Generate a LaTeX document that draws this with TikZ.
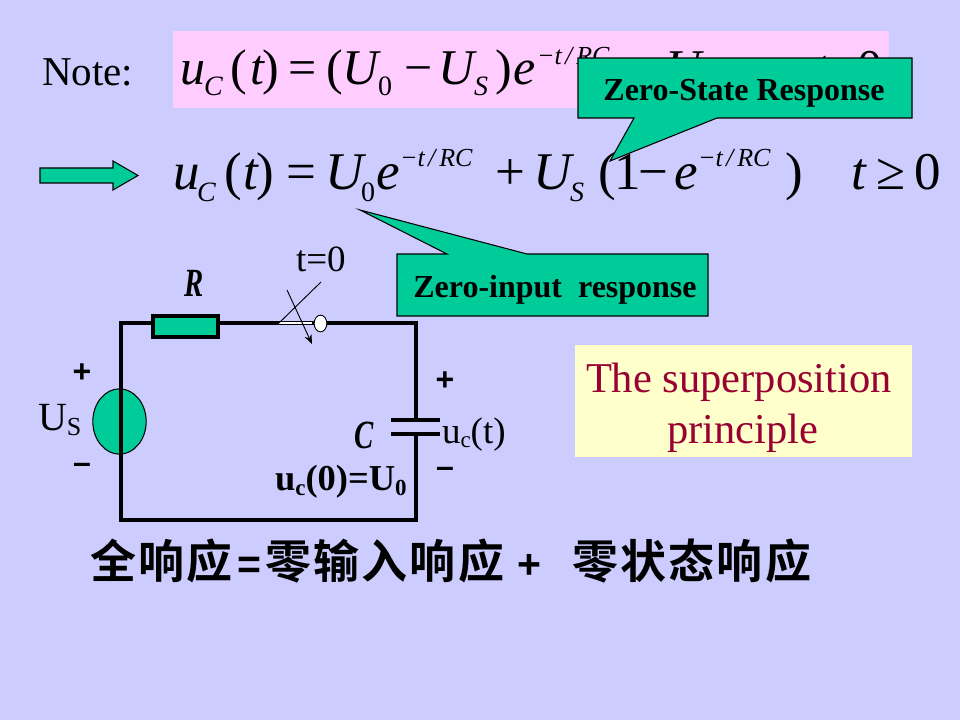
\documentclass[tikz,border=0pt]{standalone}
\usetikzlibrary{shapes.geometric,arrows.meta}
\usepackage{fontspec}
\setmainfont{Liberation Serif}
\setsansfont{Liberation Sans}
\newfontfamily\cjkbold[LetterSpace=5]{Noto Sans CJK SC Bold}
\definecolor{bgc}{HTML}{CCCCFF}
\definecolor{pinkc}{HTML}{FFCCFF}
\definecolor{greenc}{HTML}{00CC99}
\definecolor{yellowc}{HTML}{FFFFCC}
\definecolor{redc}{HTML}{990033}
\newcommand{\fsz}[1]{\fontsize{\dimexpr #1pt*3/4\relax}{\dimexpr #1pt*3/4\relax}\selectfont}
\newcommand{\expo}{−t\kern2.5pt/\kern3pt RC}
\tikzset{
 tok/.style={anchor=base west,inner sep=0pt,outer sep=0pt},
 big/.style={tok,font=\fsz{53}},
 bigi/.style={tok,font=\fsz{53}\itshape},
 bigA/.style={tok,font=\fsz{50}},
 bigAi/.style={tok,font=\fsz{50}\itshape},
 sub/.style={tok,font=\fsz{28}},
 subi/.style={tok,font=\fsz{28}\itshape},
 supi/.style={tok,font=\fsz{26}\itshape},
 wire/.style={line width=2.6pt,line cap=rect,line join=miter},
 thinl/.style={line width=0.7pt},
 calloutbox/.style={draw=black,fill=greenc,line width=0.8pt,line join=miter},
 callouttext/.style={font=\fsz{32}\bfseries,inner sep=0pt},
 sign/.style={font=\sffamily\bfseries\fsz{32},inner sep=0pt},
 elem/.style={font=\bfseries\itshape\fsz{40},inner sep=0pt,xscale=.72}
}
\begin{document}
\begin{tikzpicture}[x=0.75pt,y=-0.75pt]
\useasboundingbox (0,0) rectangle (960,720);
\fill[bgc] (0,0) rectangle (960,720);
\fill[pinkc] (173,31) rectangle (889,108);
\node[tok,font=\fsz{41}] (note) at (42,86) {Note:};
% first equation
\node[bigAi] (a1) at (180,85) {u};
\node[subi] (a2) at (204,96) {C};
\node[bigA] (a3) at (230,85) {(};
\node[bigAi] (a4) at (250,85) {t};
\node[bigA] (a5) at (262,85) {)};
\node[bigA] (a6) at (288,85) {=};
\node[bigA] (a7) at (326,85) {(};
\node[bigAi] (a8) at (342,85) {U};
\node[sub] (a9) at (378,96) {0};
\node[bigA] (a10) at (404,85) {−};
\node[bigAi] (a11) at (438,85) {U};
\node[subi] (a12) at (474,96) {S};
\node[bigA] (a13) at (495,85) {)};
\node[bigAi] (a14) at (513,85) {e};
\node[supi] (a15) at (537,65) {\expo};
\node[bigAi] (a16) at (665,85) {U};
\node[bigAi] (a17) at (815,85) {t};
\node[bigA] (a18) at (857,85) {0};
% second equation
\node[bigi] (b1) at (173,190) {u};
\node[subi] (b2) at (197,202) {C};
\node[big] (b3) at (224,190) {(};
\node[bigi] (b4) at (243,190) {t};
\node[big] (b5) at (256,190) {)};
\node[big] (b6) at (286,190) {=};
\node[bigi] (b7) at (325,190) {U};
\node[sub] (b8) at (361,202) {0};
\node[bigi] (b9) at (376,190) {e};
\node[supi] (b10) at (400,167) {\expo};
\node[big] (b11) at (495,190) {+};
\node[bigi] (b12) at (533,190) {U};
\node[subi] (b13) at (570,202) {S};
\node[big] (b14) at (598,190) {(};
\node[big] (b15) at (614,190) {1};
\node[big] (b16) at (638,190) {−};
\node[bigi] (b17) at (674,190) {e};
\node[supi] (b18) at (698,167) {\expo};
\node[big] (b19) at (785,190) {)};
\node[bigi] (b20) at (851,190) {t};
\node[big] (b21) at (876,190) {≥};
\node[big] (b22) at (914,190) {0};
% block arrow
\draw[calloutbox] (40,168) -- (113,168) -- (113,161) -- (138,175.5) -- (113,190) -- (113,183) -- (40,183) -- cycle;
% callouts
\draw[calloutbox] (578,58) -- (912,58) -- (912,118) -- (717,118) -- (610,161) -- (634,118) -- (578,118) -- cycle;
\node[callouttext] (zs) at (744,93) {Zero-State Response};
\draw[calloutbox] (397,254) -- (447,254) -- (360,210) -- (527,254) -- (708,254) -- (708,316) -- (397,316) -- cycle;
\node[callouttext] (zi) at (555,290) {Zero-input\ \ response};
% circuit
\coordinate (tl) at (121,323);
\coordinate (tr) at (416,323);
\coordinate (br) at (416,520);
\coordinate (bl) at (121,520);
\coordinate (plateA) at (416,420);
\coordinate (plateB) at (416,434);
\coordinate (swL) at (279,323);
\node[draw=black,fill=greenc,ellipse,inner sep=0pt,line width=0.8pt,minimum width=40pt,minimum height=49pt] (src) at (119.5,421.5) {};
\draw[wire] (tl) -- (bl) -- (br) -- (plateB);
\draw[wire] (plateA) -- (tr) -- (tl);
\draw[wire] (393,420) -- (438,420);
\draw[wire] (393,434) -- (438,434);
\node[draw=black,fill=greenc,line width=2.6pt,minimum width=48.75pt,minimum height=16pt,inner sep=0pt] (res) at (185.5,326.5) {};
\draw[white,line width=2.2pt] (swL) -- (312,323);
\node[draw=black,fill=white,ellipse,line width=0.7pt,minimum width=9.5pt,minimum height=12.5pt,inner sep=0pt] (sw) at (320.5,323.5) {};
\coordinate (swT) at (321,282);
\coordinate (arA) at (287,290);
\coordinate (arB) at (312,344);
\draw[thinl] (swL) -- (swT);
\draw[thinl,-{Stealth[length=7pt,width=5.5pt]}] (arA) -- (arB);
% circuit labels
\node[elem] (Rl) at (194,283) {R};
\node[elem] (Cl) at (364,435) {C};
\node[sign] (p1) at (82,373) {+};
\node[sign] (m1) at (82,468) {–};
\node[sign] (p2) at (445,381.5) {+};
\node[sign] (m2) at (445,472) {–};
\node[tok,font=\fsz{40}] (us) at (38,430) {U\raisebox{-4pt}{\fsz{26}S}};
\node[tok,font=\fsz{37}] (t0) at (296,272) {t=0};
\node[tok,font=\fsz{37}] (uct) at (442,443) {u\raisebox{-3pt}{\fsz{23}c}(t)};
\node[tok,font=\fsz{36.5}\bfseries] (uc0) at (275,490) {u\raisebox{-4pt}{\fsz{23}c}(0)=U\raisebox{-4pt}{\fsz{23}0}};
% principle box
\fill[yellowc] (575,345) rectangle (912,457);
\node[tok,font=\fsz{42.5},text=redc] (sp1) at (586,392) {The superposition};
\node[tok,font=\fsz{42.5},text=redc] (sp2) at (667,443) {principle};
% Chinese line
\node[tok,font=\fsz{46}\cjkbold] (zh1) at (90,578) {全响应};
\node[tok,font=\fsz{41}\sffamily\bfseries] (zh2) at (237,578) {=};
\node[tok,font=\fsz{46}\cjkbold] (zh3) at (265,578) {零输入响应};
\node[tok,font=\fsz{41}\sffamily\bfseries] (zh4) at (517,578) {+};
\node[tok,font=\fsz{46}\cjkbold] (zh5) at (572,578) {零状态响应};
\end{tikzpicture}
\end{document}
